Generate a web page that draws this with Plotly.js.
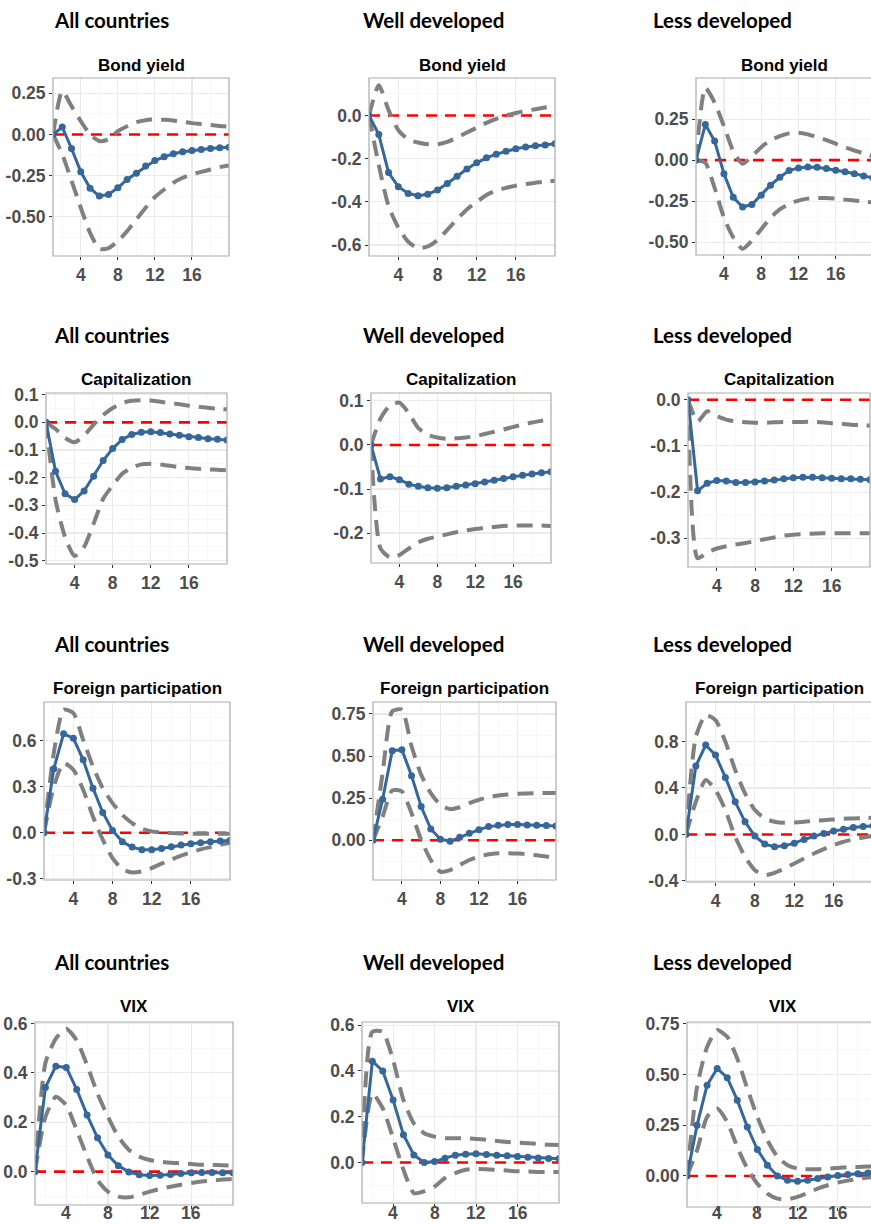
<!DOCTYPE html>
<html><head><meta charset="utf-8">
<script src="https://cdn.plot.ly/plotly-3.0.1.min.js"></script>
<style>html,body{margin:0;padding:0;background:#fff}#chart{width:871px;height:1224px}</style>
</head><body><div id="chart"></div>
<script>
// ---------------- DATA ----------------
const horizon = [1,2,3,4,5,6,7,8,9,10,11,12,13,14,15,16,17,18,19,20];
const groups = ["All countries","Well developed","Less developed"];
const variables = ["Bond yield","Capitalization","Foreign participation","VIX"];
const xTickVals = [4,8,12,16];
const xTickText = ["4","8","12","16"];

// Bond yield
const bondAllIrf = [0,0.045,-0.085,-0.227,-0.326,-0.374,-0.364,-0.324,-0.273,-0.235,-0.192,-0.158,-0.136,-0.117,-0.105,-0.097,-0.091,-0.085,-0.081,-0.077];
const bondAllUp  = [0,0.263,0.172,0.081,0.0,-0.04,-0.03,0.02,0.05,0.075,0.087,0.091,0.089,0.085,0.077,0.069,0.063,0.057,0.051,0.047];
const bondAllLo  = [0,-0.12,-0.28,-0.445,-0.597,-0.695,-0.69,-0.648,-0.587,-0.516,-0.445,-0.38,-0.334,-0.293,-0.263,-0.243,-0.227,-0.213,-0.198,-0.188];
const bondWellIrf = [0,-0.088,-0.264,-0.33,-0.361,-0.372,-0.365,-0.345,-0.315,-0.281,-0.248,-0.219,-0.196,-0.179,-0.165,-0.154,-0.146,-0.14,-0.136,-0.131];
const bondWellUp  = [0,0.14,0.025,-0.068,-0.111,-0.125,-0.133,-0.133,-0.122,-0.102,-0.079,-0.056,-0.034,-0.015,0,0.012,0.022,0.029,0.037,0.043];
const bondWellLo  = [0,-0.23,-0.42,-0.52,-0.585,-0.615,-0.607,-0.577,-0.53,-0.48,-0.435,-0.40,-0.368,-0.348,-0.335,-0.325,-0.318,-0.311,-0.307,-0.302];
const bondLessIrf = [0,0.217,0.116,-0.083,-0.226,-0.285,-0.27,-0.213,-0.152,-0.104,-0.063,-0.047,-0.041,-0.043,-0.051,-0.061,-0.071,-0.083,-0.096,-0.108];
const bondLessUp  = [0,0.441,0.35,0.207,0.055,-0.022,0.024,0.079,0.122,0.146,0.163,0.167,0.157,0.14,0.122,0.1,0.079,0.059,0.041,0.024];
const bondLessLo  = [0,-0.016,-0.169,-0.35,-0.47,-0.54,-0.49,-0.42,-0.35,-0.30,-0.266,-0.246,-0.234,-0.23,-0.23,-0.234,-0.24,-0.246,-0.252,-0.258];

// Capitalization
const capAllIrf = [0,-0.177,-0.258,-0.279,-0.248,-0.195,-0.138,-0.095,-0.062,-0.044,-0.036,-0.034,-0.037,-0.042,-0.047,-0.052,-0.055,-0.059,-0.061,-0.064];
const capAllUp  = [0,-0.024,-0.056,-0.072,-0.048,-0.008,0.026,0.052,0.07,0.078,0.08,0.079,0.074,0.07,0.065,0.06,0.056,0.053,0.049,0.047];
const capAllLo  = [0,-0.28,-0.414,-0.483,-0.45,-0.366,-0.276,-0.228,-0.186,-0.164,-0.152,-0.15,-0.152,-0.157,-0.162,-0.165,-0.168,-0.17,-0.171,-0.173];
const capWellIrf = [0,-0.077,-0.072,-0.079,-0.089,-0.094,-0.097,-0.098,-0.097,-0.094,-0.091,-0.088,-0.084,-0.08,-0.076,-0.072,-0.069,-0.066,-0.063,-0.061];
const capWellUp  = [0,0.06,0.09,0.096,0.072,0.038,0.023,0.017,0.014,0.015,0.017,0.02,0.025,0.03,0.035,0.041,0.046,0.051,0.055,0.059];
const capWellLo  = [0,-0.235,-0.255,-0.25,-0.235,-0.221,-0.213,-0.208,-0.203,-0.198,-0.194,-0.191,-0.188,-0.186,-0.184,-0.183,-0.183,-0.183,-0.183,-0.184];
const capLessIrf = [0,-0.197,-0.181,-0.175,-0.176,-0.179,-0.179,-0.178,-0.176,-0.174,-0.171,-0.169,-0.168,-0.168,-0.169,-0.17,-0.171,-0.171,-0.172,-0.173];
const capLessUp  = [0,-0.047,-0.025,-0.035,-0.043,-0.047,-0.049,-0.05,-0.05,-0.049,-0.048,-0.048,-0.048,-0.048,-0.049,-0.051,-0.052,-0.054,-0.055,-0.056];
const capLessLo  = [0,-0.343,-0.331,-0.322,-0.317,-0.313,-0.31,-0.306,-0.302,-0.298,-0.294,-0.292,-0.291,-0.29,-0.289,-0.289,-0.289,-0.289,-0.289,-0.289];

// Foreign participation
const fpAllIrf = [0,0.416,0.643,0.615,0.474,0.29,0.132,0.015,-0.058,-0.093,-0.11,-0.11,-0.102,-0.091,-0.08,-0.071,-0.065,-0.058,-0.054,-0.05];
const fpAllUp  = [0,0.518,0.80,0.778,0.604,0.431,0.29,0.193,0.117,0.063,0.026,0.009,0.002,-0.002,-0.004,-0.006,-0.006,-0.006,-0.006,-0.006];
const fpAllLo  = [0,0.30,0.453,0.41,0.28,0.106,-0.045,-0.165,-0.236,-0.258,-0.251,-0.23,-0.201,-0.175,-0.149,-0.128,-0.108,-0.093,-0.078,-0.065];
const fpWellIrf = [0,0.244,0.532,0.538,0.383,0.2,0.067,0.006,-0.006,0.018,0.042,0.063,0.081,0.089,0.093,0.093,0.091,0.089,0.087,0.085];
const fpWellUp  = [0,0.399,0.766,0.776,0.558,0.389,0.28,0.21,0.185,0.196,0.22,0.24,0.256,0.266,0.272,0.276,0.278,0.28,0.28,0.28];
const fpWellLo  = [0,0.141,0.296,0.29,0.161,0.002,-0.117,-0.187,-0.177,-0.147,-0.117,-0.097,-0.083,-0.077,-0.077,-0.079,-0.083,-0.089,-0.097,-0.107];
const fpLessIrf = [0,0.589,0.77,0.683,0.491,0.281,0.109,-0.014,-0.083,-0.106,-0.098,-0.075,-0.043,-0.014,0.009,0.029,0.046,0.06,0.069,0.075];
const fpLessUp  = [0,0.84,1.028,0.985,0.798,0.554,0.353,0.21,0.138,0.109,0.1,0.103,0.109,0.118,0.123,0.129,0.135,0.138,0.141,0.144];
const fpLessLo  = [0,0.281,0.468,0.382,0.21,-0.02,-0.192,-0.307,-0.35,-0.33,-0.293,-0.25,-0.207,-0.164,-0.126,-0.092,-0.063,-0.043,-0.026,-0.011];

// VIX
const vixAllIrf = [0,0.341,0.427,0.422,0.333,0.229,0.137,0.067,0.024,-0.001,-0.013,-0.016,-0.015,-0.011,-0.007,-0.004,-0.003,-0.003,-0.004,-0.004];
const vixAllUp  = [0,0.44,0.539,0.579,0.532,0.431,0.316,0.222,0.141,0.089,0.061,0.047,0.04,0.036,0.034,0.031,0.028,0.027,0.026,0.024];
const vixAllLo  = [0,0.222,0.303,0.269,0.168,0.061,-0.034,-0.081,-0.101,-0.104,-0.094,-0.081,-0.07,-0.061,-0.053,-0.046,-0.04,-0.036,-0.032,-0.03];
const vixWellIrf = [0,0.443,0.4,0.273,0.121,0.033,0,0.004,0.019,0.032,0.036,0.038,0.035,0.032,0.029,0.026,0.023,0.02,0.017,0.016];
const vixWellUp  = [0,0.571,0.571,0.447,0.273,0.171,0.128,0.113,0.106,0.106,0.106,0.103,0.099,0.094,0.09,0.087,0.084,0.081,0.078,0.076];
const vixWellLo  = [0,0.302,0.237,0.106,-0.032,-0.134,-0.126,-0.105,-0.068,-0.046,-0.032,-0.028,-0.029,-0.032,-0.035,-0.038,-0.039,-0.041,-0.042,-0.042];
const vixLessIrf = [0,0.25,0.447,0.529,0.484,0.373,0.241,0.13,0.053,0,-0.021,-0.026,-0.021,-0.013,-0.005,0.002,0.007,0.011,0.015,0.018];
const vixLessUp  = [0,0.438,0.635,0.718,0.685,0.578,0.43,0.291,0.176,0.094,0.053,0.036,0.033,0.033,0.036,0.039,0.043,0.044,0.046,0.048];
const vixLessLo  = [0,0.126,0.291,0.332,0.266,0.143,0.036,-0.038,-0.087,-0.112,-0.115,-0.103,-0.084,-0.062,-0.046,-0.033,-0.023,-0.015,-0.008,-0.003];

// Y tick labels
const tickQuarterVals = [-0.5,-0.25,0,0.25];
const tickQuarterText = ["-0.50","-0.25","0.00","0.25"];
const tickBondWellVals = [-0.6,-0.4,-0.2,0];
const tickBondWellText = ["-0.6","-0.4","-0.2","0.0"];
const tickCapAllVals = [-0.5,-0.4,-0.3,-0.2,-0.1,0,0.1];
const tickCapAllText = ["-0.5","-0.4","-0.3","-0.2","-0.1","0.0","0.1"];
const tickCapWellVals = [-0.2,-0.1,0,0.1];
const tickCapWellText = ["-0.2","-0.1","0.0","0.1"];
const tickCapLessVals = [-0.3,-0.2,-0.1,0];
const tickCapLessText = ["-0.3","-0.2","-0.1","0.0"];
const tickFpAllVals = [-0.3,0,0.3,0.6];
const tickFpAllText = ["-0.3","0.0","0.3","0.6"];
const tickFpWellVals = [0,0.25,0.5,0.75];
const tickFpWellText = ["0.00","0.25","0.50","0.75"];
const tickFpLessVals = [-0.4,0,0.4,0.8];
const tickFpLessText = ["-0.4","0.0","0.4","0.8"];
const tickVixVals = [0,0.2,0.4,0.6];
const tickVixText = ["0.0","0.2","0.4","0.6"];
const tickVixLessVals = [0,0.25,0.5,0.75];
const tickVixLessText = ["0.00","0.25","0.50","0.75"];

// ---------------- PANELS ----------------
const series = [
  [bondAllIrf,bondAllUp,bondAllLo,tickQuarterVals,tickQuarterText,0.125],
  [bondWellIrf,bondWellUp,bondWellLo,tickBondWellVals,tickBondWellText,0.1],
  [bondLessIrf,bondLessUp,bondLessLo,tickQuarterVals,tickQuarterText,0.125],
  [capAllIrf,capAllUp,capAllLo,tickCapAllVals,tickCapAllText,0.05],
  [capWellIrf,capWellUp,capWellLo,tickCapWellVals,tickCapWellText,0.05],
  [capLessIrf,capLessUp,capLessLo,tickCapLessVals,tickCapLessText,0.05],
  [fpAllIrf,fpAllUp,fpAllLo,tickFpAllVals,tickFpAllText,0.15],
  [fpWellIrf,fpWellUp,fpWellLo,tickFpWellVals,tickFpWellText,0.125],
  [fpLessIrf,fpLessUp,fpLessLo,tickFpLessVals,tickFpLessText,0.2],
  [vixAllIrf,vixAllUp,vixAllLo,tickVixVals,tickVixText,0.1],
  [vixWellIrf,vixWellUp,vixWellLo,tickVixVals,tickVixText,0.1],
  [vixLessIrf,vixLessUp,vixLessLo,tickVixLessVals,tickVixLessText,0.125]
];

// layout boxes (px): left, right(true), top, bottom, y-range
const boxes = [
  [53,229,78,256,[-0.738,0.343]],
  [369,555,78,256,[-0.651,0.174]],
  [696,873,78,255,[-0.577,0.50]],
  [46,227,393,564,[-0.512,0.106]],
  [371,551,393,563,[-0.268,0.118]],
  [688,870,393,567,[-0.362,0.0145]],
  [44,230,702,880,[-0.307,0.85]],
  [373,556,702,880,[-0.236,0.821]],
  [686,873,702,882,[-0.409,1.14]],
  [35,233,1022,1205,[-0.135,0.606]],
  [362,559,1022,1203,[-0.177,0.614]],
  [687,878,1022,1207,[-0.153,0.758]]
];
const headerY = [20,335,644,962];
const headerX = [52,361,651];
const titleY = [65,379,688,1006];

const W = 871, H = 1224;
const px = v => v / W;
const py = v => 1 - v / H;

const traces = [];
const layout = {
  width: W, height: H,
  margin: {l:0,r:0,t:0,b:0},
  paper_bgcolor: '#ffffff', plot_bgcolor: '#ffffff',
  showlegend: false,
  annotations: [], shapes: []
};

const tickFont = {family:'Liberation Sans, Arial, sans-serif', size:17.5, color:'#4D4D4D', weight:'bold'};

boxes.forEach((b, i) => {
  const k = i + 1;
  const xs = k === 1 ? '' : String(k);
  const [L, R, T, B, yr] = b;
  const visR = Math.min(R, W);
  const xEnd = 1 + 19 * (visR - L) / (R - L);
  const [irf, up, lo, yv, yt, ym] = series[i];
  const row = Math.floor(i / 3), col = i % 3;
  const bottomRow = row === 3;

  layout['xaxis' + xs] = {
    domain: [px(L), px(visR)], range: [1, xEnd], anchor: 'y' + xs,
    tickmode: 'array', tickvals: xTickVals, ticktext: xTickText,
    showticklabels: !bottomRow,
    showgrid: true, gridcolor: '#EBEBEB', gridwidth: 1.1,
    minor: {tickmode: 'linear', tick0: 0, dtick: 2, showgrid: true, gridcolor: '#F3F3F3', gridwidth: 0.6, ticks: ''},
    ticks: 'outside', ticklen: 3, tickcolor: '#333333', tickwidth: 1,
    zeroline: false, showline: false, tickfont: tickFont, fixedrange: true
  };
  layout['yaxis' + xs] = {
    domain: [py(B), py(T)], range: yr, anchor: 'x' + xs,
    tickmode: 'array', tickvals: yv, ticktext: yt,
    showgrid: true, gridcolor: '#EBEBEB', gridwidth: 1.1,
    minor: {tickmode: 'linear', tick0: 0, dtick: ym, showgrid: true, gridcolor: '#F3F3F3', gridwidth: 0.6, ticks: ''},
    ticks: 'outside', ticklen: 3, tickcolor: '#333333', tickwidth: 1,
    zeroline: false, showline: false, tickfont: tickFont, fixedrange: true
  };

  // bottom row: x tick labels as text anchored to the page bottom (kept fully visible)
  if (bottomRow) {
    xTickVals.forEach((v, j) => {
      layout.annotations.push({xref: 'x' + xs, yref: 'paper', x: v, y: 0,
        xanchor: 'center', yanchor: 'bottom', showarrow: false, borderpad: 0,
        text: xTickText[j], font: tickFont});
    });
  }

  const ax = {xaxis: 'x' + xs, yaxis: 'y' + xs, hoverinfo: 'skip'};
  traces.push(Object.assign({x: [1, 20], y: [0, 0], mode: 'lines',
    line: {color: '#FF0000', width: 2.6, dash: '11px,8px'}}, ax));
  traces.push(Object.assign({x: horizon, y: up, mode: 'lines',
    line: {color: '#808080', width: 4, dash: '16px,9px', shape: 'spline', smoothing: 0.6}}, ax));
  traces.push(Object.assign({x: horizon, y: lo, mode: 'lines',
    line: {color: '#808080', width: 4, dash: '16px,9px', shape: 'spline', smoothing: 0.6}}, ax));
  traces.push(Object.assign({x: horizon, y: irf, mode: 'lines+markers',
    line: {color: '#35679A', width: 3},
    marker: {color: '#35679A', size: 7}}, ax));

  // panel border
  layout.shapes.push({type: 'rect', xref: 'paper', yref: 'paper',
    x0: px(L), x1: px(R), y0: py(B), y1: py(T),
    line: {color: '#ABABAB', width: 1.2}, fillcolor: 'rgba(0,0,0,0)', layer: 'above'});

  // variable title
  layout.annotations.push({xref: 'paper', yref: 'paper', x: px((L + R) / 2), y: py(titleY[row]),
    xanchor: 'center', yanchor: 'middle', showarrow: false, text: variables[row],
    font: {family: 'Liberation Sans, Arial, sans-serif', size: 17, color: '#000000', weight: 'bold'}});
  // group header
  layout.annotations.push({xref: 'paper', yref: 'paper', x: px(headerX[col]), y: py(headerY[row]),
    xanchor: 'left', yanchor: 'middle', showarrow: false, text: groups[col],
    font: {family: 'Lato, Open Sans, sans-serif', size: 20.5, color: '#000000', weight: 'bold'}});
});

Plotly.newPlot('chart', traces, layout, {staticPlot: true, displayModeBar: false});
</script>
</body></html>
